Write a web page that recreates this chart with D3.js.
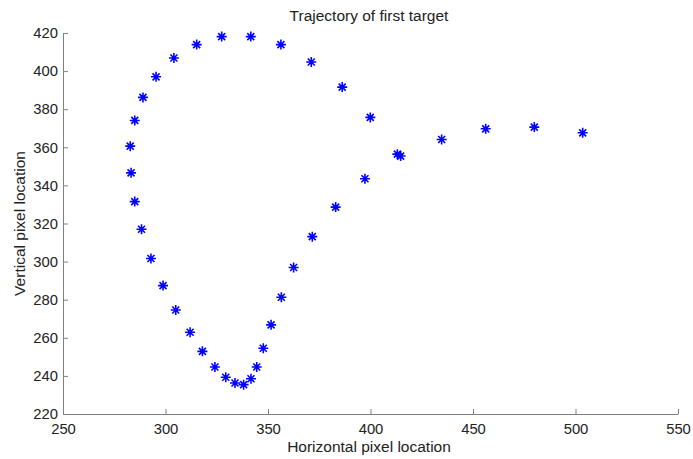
<!DOCTYPE html>
<html>
<head>
<meta charset="utf-8">
<script src="https://cdn.jsdelivr.net/npm/d3@7"></script>
<style>
  body { margin: 0; background: #fff; }
  text { font-family: "Liberation Sans", Arial, sans-serif; fill: #222; }
  .axis path, .axis line { stroke: #808080; }
  .axis text { font-size: 14.8px; fill: #222; }
</style>
</head>
<body>
<svg id="chart" width="693" height="459"></svg>
<script>
// Trajectory points (horizontal, vertical pixel location)
var xVals = [503.5, 479.9, 456.2, 434.7, 414.7, 413.1, 399.9, 386.2, 371.1, 356.3,
  341.6, 327.4, 315.2, 304.1, 295.4, 289.0, 285.0, 282.8, 283.2, 285.0,
  288.3, 292.9, 298.8, 305.0, 312.0, 318.0, 324.1, 329.4, 333.9, 338.1,
  341.7, 344.5, 347.7, 351.5, 356.5, 362.5, 371.6, 383.0, 397.3];
var yVals = [367.6, 370.6, 369.7, 364.1, 355.4, 356.4, 375.7, 391.6, 404.8, 413.9,
  418.1, 418.1, 413.9, 406.9, 397.0, 386.2, 374.1, 360.6, 346.6, 331.5,
  317.0, 301.6, 287.4, 274.6, 262.9, 252.9, 244.7, 239.3, 236.3, 235.4,
  238.5, 244.7, 254.5, 266.8, 281.3, 296.9, 313.1, 328.6, 343.5];

var xTicks = [250, 300, 350, 400, 450, 500, 550];
var yTicks = [220, 240, 260, 280, 300, 320, 340, 360, 380, 400, 420];

var margin = { top: 33, right: 15, bottom: 45, left: 63 },
  width = 678 - margin.left,
  height = 414 - margin.top;

var svg = d3.select('#chart');
var g = svg.append('g')
  .attr('transform', 'translate(' + margin.left + ',' + margin.top + ')');

var x = d3.scaleLinear().domain([250, 550]).range([0, width]);
var y = d3.scaleLinear().domain([220, 420]).range([height, 0]);

// axes, ticks point inward like matlab
g.append('g')
  .attr('class', 'axis')
  .attr('transform', 'translate(0,' + height + ')')
  .call(d3.axisBottom(x).tickValues(xTicks).tickSize(-5).tickSizeOuter(0).tickPadding(7))
  .selectAll('text').attr('dy', '0.9em');

g.append('g')
  .attr('class', 'axis')
  .call(d3.axisLeft(y).tickValues(yTicks).tickSize(-5).tickSizeOuter(0).tickPadding(5));

// asterisk markers
var r = 5;
var star = 'M' + (-r) + ',0L' + r + ',0M0,' + (-r) + 'L0,' + r +
  'M' + (-r * 0.7) + ',' + (-r * 0.7) + 'L' + (r * 0.7) + ',' + (r * 0.7) +
  'M' + (-r * 0.7) + ',' + (r * 0.7) + 'L' + (r * 0.7) + ',' + (-r * 0.7);

g.append('g')
  .selectAll('path')
  .data(d3.range(xVals.length))
  .enter()
  .append('path')
  .attr('transform', function (i) { return 'translate(' + x(xVals[i]) + ',' + y(yVals[i]) + ')'; })
  .attr('d', star)
  .attr('stroke', '#0000ff')
  .attr('stroke-width', 1.6)
  .attr('fill', 'none');

// titles
svg.append('text')
  .attr('x', 369)
  .attr('y', 21)
  .attr('text-anchor', 'middle')
  .style('font-size', '15.5px')
  .text('Trajectory of first target');

svg.append('text')
  .attr('x', 369)
  .attr('y', 452)
  .attr('text-anchor', 'middle')
  .style('font-size', '15.5px')
  .text('Horizontal pixel location');

svg.append('text')
  .attr('transform', 'translate(25,' + (margin.top + height / 2) + ') rotate(-90)')
  .attr('text-anchor', 'middle')
  .style('font-size', '15.5px')
  .text('Vertical pixel location');
</script>
</body>
</html>
